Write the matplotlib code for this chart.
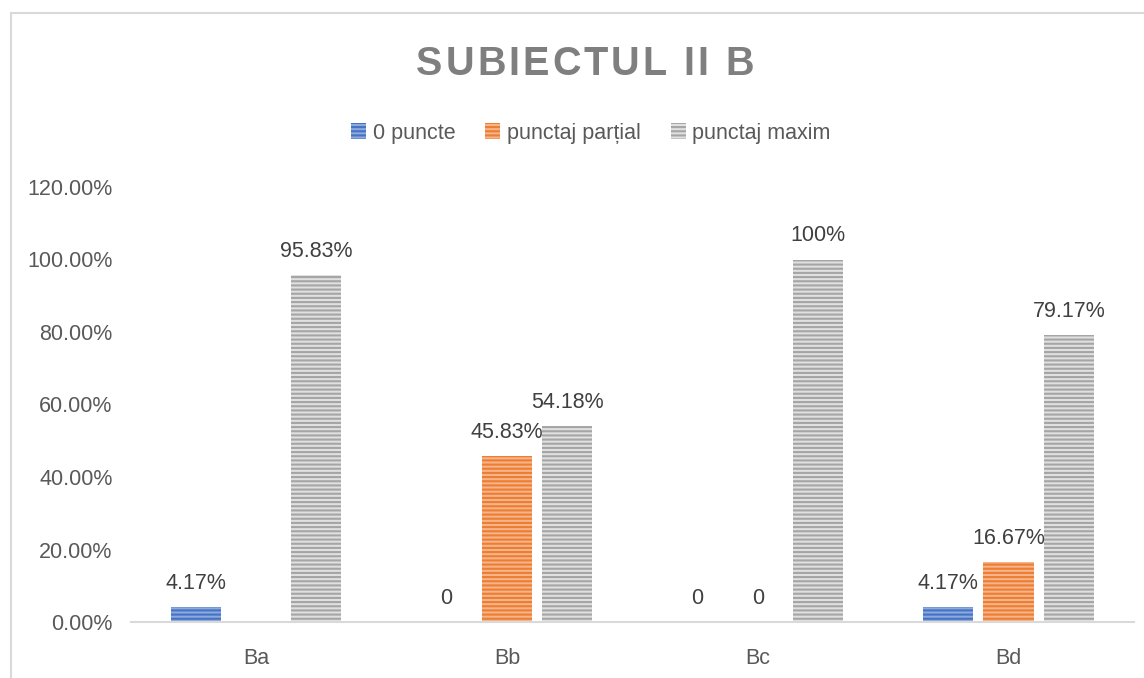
import numpy as np
import matplotlib
matplotlib.use("Agg")
from matplotlib import pyplot as plt
from matplotlib.lines import Line2D
from matplotlib.ticker import FuncFormatter

# scores per item (fraction of students)
categories = ["Ba", "Bb", "Bc", "Bd"]
series_names = ["0 puncte", "punctaj parțial", "punctaj maxim"]
zero_pts = [0.0417, 0.0, 0.0, 0.0417]
partial_pts = [0.0, 0.4583, 0.0, 0.1667]
max_pts = [0.9583, 0.5418, 1.0, 0.7917]
value_labels = [
    ["4.17%", "0", "0", "4.17%"],
    ["", "45.83%", "0", "16.67%"],
    ["95.83%", "54.18%", "100%", "79.17%"],
]
y_ticks = [0.0, 0.2, 0.4, 0.6, 0.8, 1.0, 1.2]
title = "SUBIECTUL II B"

# stripe colours: (dark stripe, light background)
stripe_cols = [("#4472C4", "#8EA9DB"), ("#ED7D31", "#F6B48A"), ("#A5A5A5", "#E0E0E0")]

plt.rcParams['font.family'] = ['Liberation Sans', 'DejaVu Sans']
plt.rcParams['hatch.linewidth'] = 1.5

W, H = 1144, 678
fig = plt.figure(figsize=(W / 100, H / 100), dpi=100)
ax = fig.add_axes([130.6 / W, 1 - 622 / H, (1134 - 130.6) / W, (622 - 187) / H])

x = np.arange(len(categories))
width = 0.2
offset = 0.24
all_vals = [zero_pts, partial_pts, max_pts]
lab_size = 15.5

for i, vals in enumerate(all_vals):
    dark, light = stripe_cols[i]
    pos = x + (i - 1) * offset
    ax.bar(pos, vals, width, color=light, edgecolor=dark, linewidth=0,
           hatch="----", label=series_names[i])
    for p, v, lab in zip(pos, vals, value_labels[i]):
        if lab:
            ax.text(p, v + 0.036, lab, ha="center", va="bottom",
                    fontsize=lab_size, color="#404040")

ax.set_xlim(-0.5, len(categories) - 0.5)
ax.set_ylim(0, 1.2)
ax.set_yticks(y_ticks)
ax.yaxis.set_major_formatter(FuncFormatter(lambda v, _: f"{v * 100:.2f}%"))
ax.set_xticks(x)
ax.set_xticklabels(categories)
ax.tick_params(axis="both", length=0, labelsize=lab_size, colors="#595959")
ax.tick_params(axis="y", pad=13)
ax.tick_params(axis="x", pad=19)

for s in ["top", "right", "left"]:
    ax.spines[s].set_visible(False)
ax.spines["bottom"].set_color("#D9D9D9")
ax.spines["bottom"].set_linewidth(1.5)

# title with extra letter spacing, one glyph at a time
renderer = fig.canvas.get_renderer()
glyphs = []
for ch in title:
    t = fig.text(0, 1 - 64 / H, ch, ha="left", va="center", fontsize=28.5,
                 fontweight="bold", color="#7F7F7F")
    glyphs.append(t)
widths = []
for t, ch in zip(glyphs, title):
    w = t.get_window_extent(renderer).width if ch != " " else 11
    widths.append(w)
spacing = 3.0
total = sum(widths) + spacing * (len(title) - 1)
xpos = 585 - total / 2
for t, w in zip(glyphs, widths):
    t.set_x(xpos / W)
    xpos += w + spacing

fig.legend(loc="center", bbox_to_anchor=(591 / W, 1 - 133 / H), ncol=3,
           frameon=False, fontsize=lab_size, handlelength=0.7, handleheight=0.7,
           handletextpad=0.3, columnspacing=1.4, labelcolor="#595959")

# chart area border
fig.add_artist(Line2D([11 / W, 1.0], [1 - 13 / H] * 2, color="#D9D9D9", lw=1.5))
fig.add_artist(Line2D([11 / W] * 2, [0.0, 1 - 13 / H], color="#D9D9D9", lw=1.5))

fig.savefig("out.png", dpi=100)
